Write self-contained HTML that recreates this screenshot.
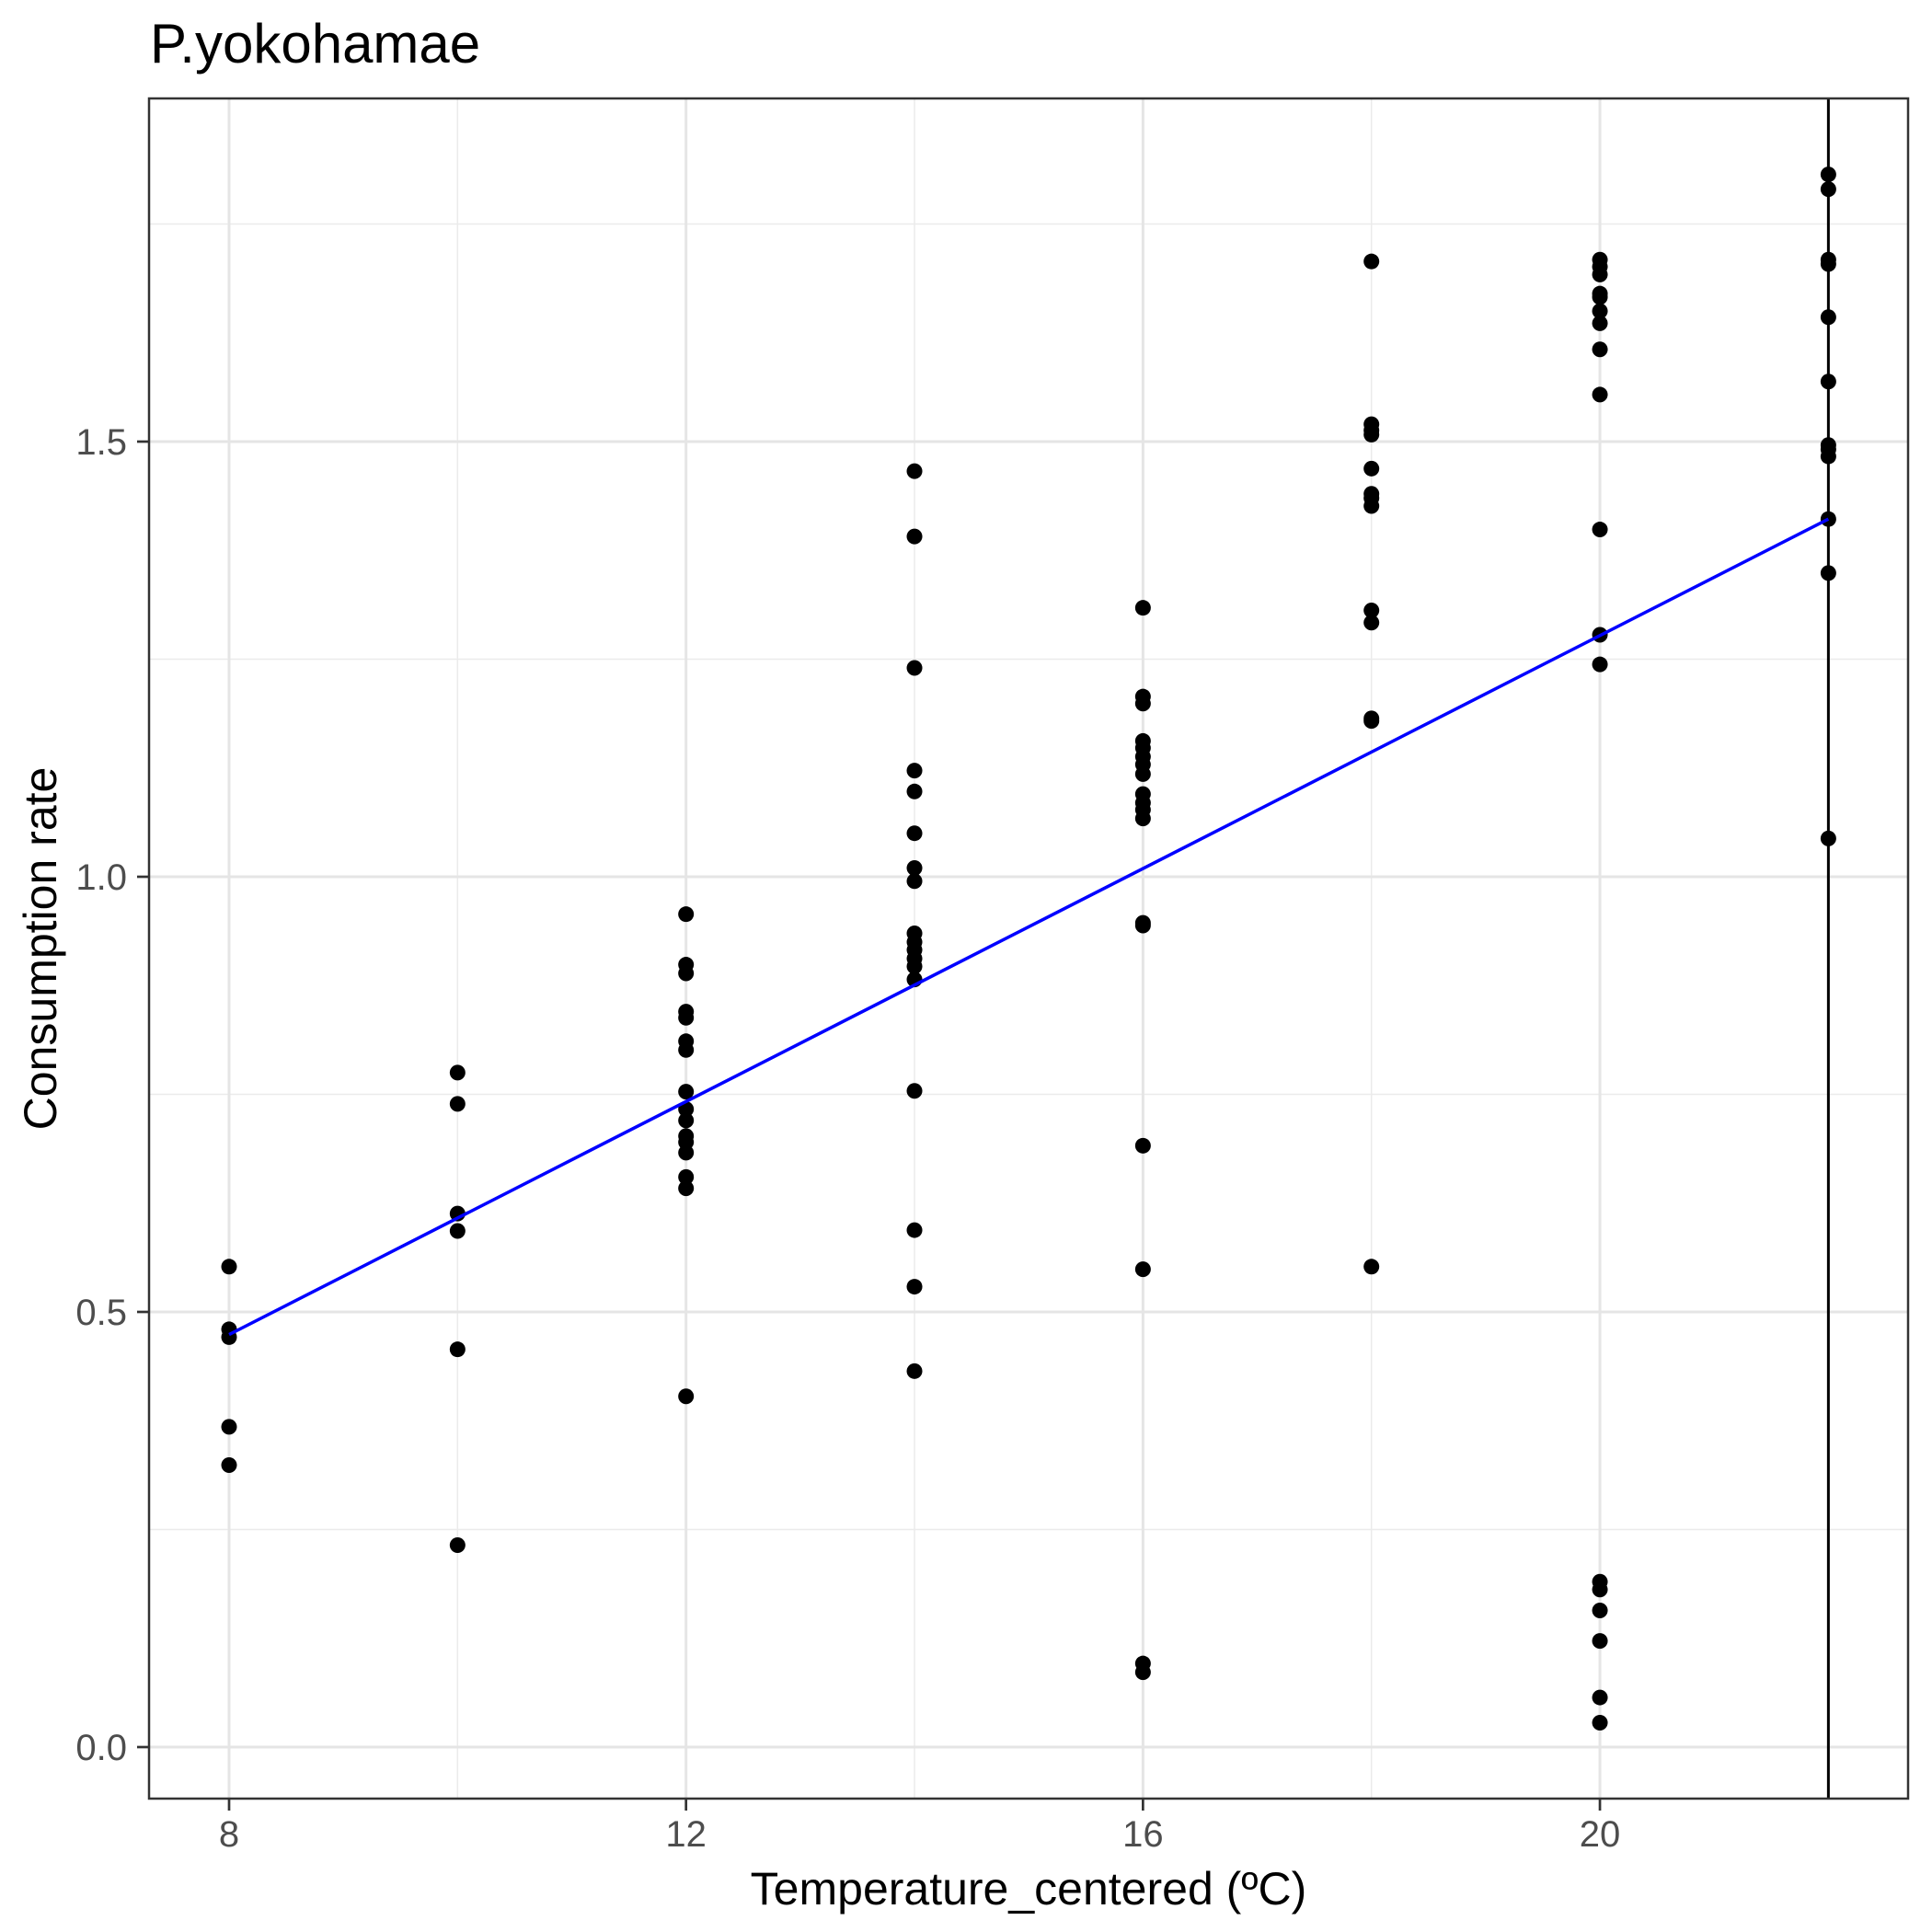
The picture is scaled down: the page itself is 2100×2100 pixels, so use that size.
<!DOCTYPE html>
<html><head><meta charset="utf-8"><style>body{margin:0;background:#fff}svg{display:block;font-family:"Liberation Sans",Arial,sans-serif}</style></head>
<body>
<svg id="chart" width="2100" height="2100" viewBox="0 0 2100 2100" xmlns="http://www.w3.org/2000/svg">
<rect width="2100" height="2100" fill="#fff"/>
<g id="grid"></g>
<g id="marks"></g>
<rect x="162" y="107" width="1912" height="1848" fill="none" stroke="#333" stroke-width="2.5"/>
<g id="axes"></g>
<text x="163" y="68" font-size="60" fill="#000">P.yokohamae</text>
<text x="1118" y="2070" font-size="50" text-anchor="middle" fill="#000">Temperature_centered (ºC)</text>
<text transform="translate(61,1031) rotate(-90)" font-size="50" text-anchor="middle" fill="#000">Consumption rate</text>
</svg>
<script>
const xTicks=[8,12,16,20];
const xMinor=[10,14,18,22];
const yTicks=[0,0.5,1.0,1.5];
const yTickLabels=["0.0","0.5","1.0","1.5"];
const yMinor=[0.25,0.75,1.25,1.75];
const temps=[8,10,12,14,16,18,20,22];
const rates=[
[0.552,0.480,0.471,0.368,0.324],
[0.775,0.739,0.613,0.593,0.457,0.232],
[0.957,0.899,0.889,0.845,0.838,0.811,0.801,0.753,0.733,0.720,0.702,0.695,0.683,0.655,0.642,0.403],
[1.466,1.391,1.240,1.122,1.098,1.050,1.010,0.995,0.935,0.925,0.916,0.906,0.897,0.882,0.754,0.594,0.529,0.432],
[1.309,1.207,1.199,1.156,1.148,1.138,1.129,1.118,1.095,1.085,1.077,1.067,0.947,0.944,0.691,0.549,0.096,0.086],
[1.707,1.520,1.513,1.508,1.469,1.440,1.435,1.426,1.306,1.292,1.182,1.179,0.552],
[1.709,1.701,1.692,1.670,1.666,1.650,1.636,1.606,1.554,1.399,1.278,1.244,0.190,0.181,0.157,0.122,0.057,0.028],
[1.807,1.790,1.709,1.704,1.643,1.569,1.496,1.491,1.483,1.411,1.349,1.044]
];
const fitX=[8,22];
const fitY=[0.474,1.411];
const vlineX=[22];

const L=162,R=2074,T=107,B=1955;
const X=v=>249+(v-8)*124.17;
const Y=v=>1899-v*946;
const NS="http://www.w3.org/2000/svg";
function mk(tag,attrs,parent){const e=document.createElementNS(NS,tag);for(const k in attrs)e.setAttribute(k,attrs[k]);parent.appendChild(e);return e;}
const grid=document.getElementById('grid'),marks=document.getElementById('marks'),axes=document.getElementById('axes');
yMinor.forEach(v=>{const l=mk('line',{x1:L,x2:R,y1:Y(v),y2:Y(v),stroke:'#ebebeb','stroke-width':1.5},grid);

});
xMinor.forEach(v=>{const l=mk('line',{x1:X(v),x2:X(v),y1:T,y2:B,stroke:'#ebebeb','stroke-width':1.5},grid);

});
yTicks.forEach((v,i)=>{const l=mk('line',{x1:L,x2:R,y1:Y(v),y2:Y(v),stroke:'#e5e5e5','stroke-width':3},grid);


const t=mk('line',{x1:L-13,x2:L,y1:Y(v),y2:Y(v),stroke:'#333','stroke-width':2.7},axes);


const tx=mk('text',{x:L-24,y:Y(v)+14,'font-size':40,'text-anchor':'end',fill:'#4d4d4d'},axes);
tx.textContent=yTickLabels[i];

});
xTicks.forEach(v=>{const l=mk('line',{x1:X(v),x2:X(v),y1:T,y2:B,stroke:'#e5e5e5','stroke-width':3},grid);


const t=mk('line',{x1:X(v),x2:X(v),y1:B,y2:B+13,stroke:'#333','stroke-width':2.7},axes);


const tx=mk('text',{x:X(v),y:2007,'font-size':40,'text-anchor':'middle',fill:'#4d4d4d'},axes);
tx.textContent=String(v);

});
vlineX.forEach(v=>{const l=mk('line',{x1:X(v),x2:X(v),y1:T,y2:B,stroke:'#000','stroke-width':3},marks);

});
temps.forEach((tv,i)=>rates[i].forEach(r=>{const c=mk('circle',{cx:X(tv),cy:Y(r),r:8.5,fill:'#000'},marks);

}));
const fl=mk('line',{x1:X(fitX[0]),y1:Y(fitY[0]),x2:X(fitX[1]),y2:Y(fitY[1]),stroke:'#0000ff','stroke-width':3.5},marks);


</script>
</body></html>
